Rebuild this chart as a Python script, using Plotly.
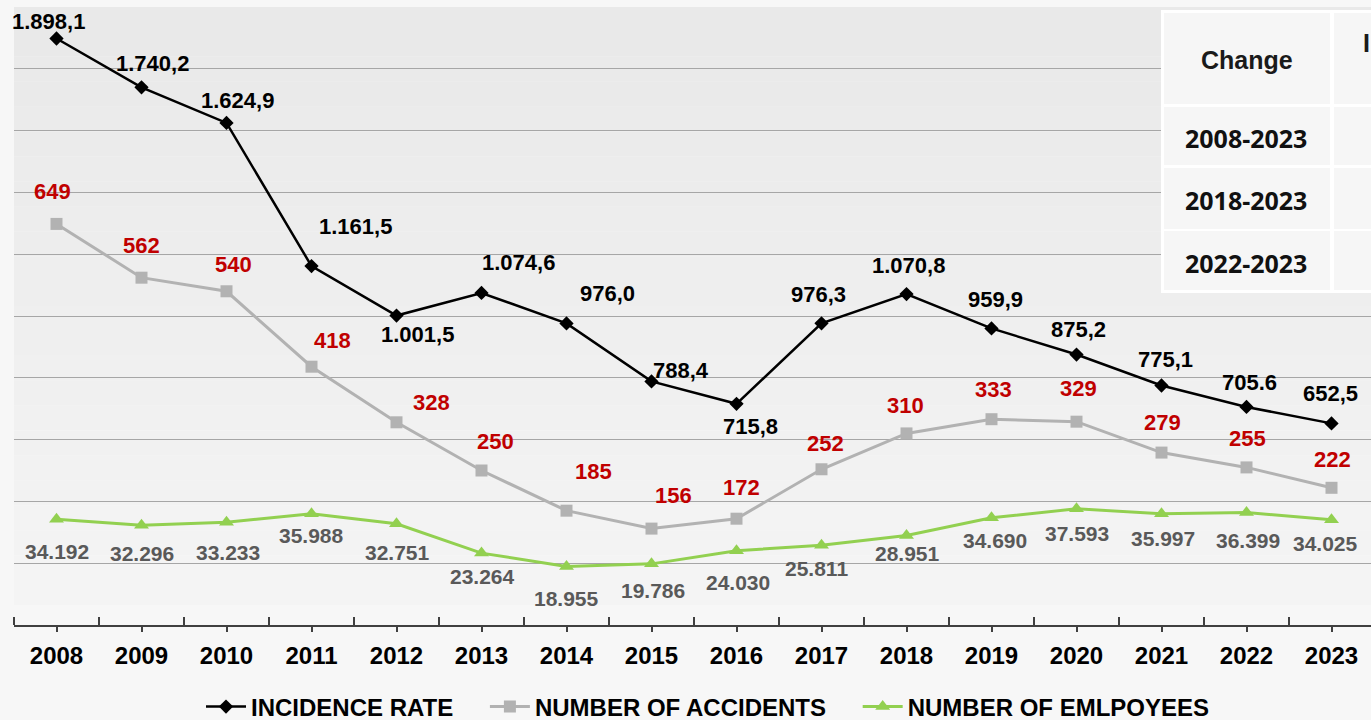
import plotly.graph_objects as go

years = list(range(2008, 2024))
incidence_rate = [1898.1, 1740.2, 1624.9, 1161.5, 1001.5, 1074.6, 976.0, 788.4,
                  715.8, 976.3, 1070.8, 959.9, 875.2, 775.1, 705.6, 652.5]
incidence_text = ["1.898,1", "1.740,2", "1.624,9", "1.161,5", "1.001,5", "1.074,6", "976,0", "788,4",
                  "715,8", "976,3", "1.070,8", "959,9", "875,2", "775,1", "705.6", "652,5"]
accidents = [649, 562, 540, 418, 328, 250, 185, 156, 172, 252, 310, 333, 329, 279, 255, 222]
employees = [34192, 32296, 33233, 35988, 32751, 23264, 18955, 19786,
             24030, 25811, 28951, 34690, 37593, 35997, 36399, 34025]
employees_text = ["34.192", "32.296", "33.233", "35.988", "32.751", "23.264", "18.955", "19.786",
                  "24.030", "25.811", "28.951", "34.690", "37.593", "35.997", "36.399", "34.025"]
series_names = ["INCIDENCE RATE", "NUMBER OF ACCIDENTS", "NUMBER OF EMLPOYEES"]
table_header = "Change"
table_rows = ["2008-2023", "2018-2023", "2022-2023"]
table_col2 = "I"

# label offsets (pixels, dx, dy up)
inc_off = [(-8, 17), (11, 24), (11, 22), (44, 40), (21, -19), (37, 30), (41, 30), (29, 11),
           (14, -23), (-3, 29), (2, 29), (4, 29), (2, 25), (4, 26), (3, 24), (-1, 30)]
acc_off = [(-4, 32), (0, 32), (7, 27), (21, 26), (35, 20), (14, 29), (27, 39), (22, 33),
           (5, 31), (4, 26), (-1, 28), (2, 30), (2, 33), (1, 30), (1, 29), (1, 28)]
emp_off = [(0, -32), (0, -28), (1, -30), (0, -22), (1, -29), (1, -23), (0, -32), (1, -27),
           (1, -32), (-5, -23), (1, -18), (3, -23), (0, -25), (1, -25), (1, -28), (-6, -24)]

W, H = 1371, 720
ML, MR, MT, MB = 14, 0, 7, 95
PW, PH = W - ML - MR, H - MT - MB

def px(x):
    return (x - ML) / PW

def py(y):
    return (H - MB - y) / PH

FONT = "Liberation Sans, Arial, sans-serif"
PAD = "\u00a0\u00a0\u00a0\u00a0"

fig = go.Figure()
fig.add_trace(go.Scatter(
    x=years, y=incidence_rate, name=series_names[0] + PAD, mode="lines+markers",
    line=dict(color="#000000", width=2.5),
    marker=dict(symbol="diamond", size=11, color="#000000"), yaxis="y"))
fig.add_trace(go.Scatter(
    x=years, y=accidents, name=series_names[1] + PAD, mode="lines+markers",
    line=dict(color="#b2b2b2", width=3),
    marker=dict(symbol="square", size=12, color="#b2b2b2"), yaxis="y2"))
fig.add_trace(go.Scatter(
    x=years, y=employees, name=series_names[2], mode="lines+markers",
    line=dict(color="#92d050", width=3),
    marker=dict(symbol="triangle-up", size=13, color="#92d050"), yaxis="y3"))

ann = []
for i, yr in enumerate(years):
    ann.append(dict(x=yr, y=incidence_rate[i], xref="x", yref="y", text="<b>%s</b>" % incidence_text[i],
                    showarrow=False, xshift=inc_off[i][0], yshift=inc_off[i][1],
                    xanchor="center", yanchor="middle",
                    font=dict(family=FONT, size=22, color="#000000")))
    ann.append(dict(x=yr, y=accidents[i], xref="x", yref="y2", text="<b>%d</b>" % accidents[i],
                    showarrow=False, xshift=acc_off[i][0], yshift=acc_off[i][1],
                    xanchor="center", yanchor="middle",
                    font=dict(family=FONT, size=22, color="#c00000")))
    ann.append(dict(x=yr, y=employees[i], xref="x", yref="y3", text="<b>%s</b>" % employees_text[i],
                    showarrow=False, xshift=emp_off[i][0], yshift=emp_off[i][1],
                    xanchor="center", yanchor="middle",
                    font=dict(family=FONT, size=21, color="#595959")))

shapes = []
# plot area gradient background
n = 24
top_px, bot_px = 7, 605
for k in range(n):
    y0 = top_px + (bot_px - top_px) * k / n
    y1 = top_px + (bot_px - top_px) * (k + 1) / n
    t = k / (n - 1)
    c = int(round(0xe9 + (0xf4 - 0xe9) * t))
    shapes.append(dict(type="rect", xref="paper", yref="paper", x0=0, x1=1,
                       y0=py(y1), y1=py(y0), fillcolor="rgb(%d,%d,%d)" % (c, c, c),
                       line=dict(width=0), layer="below"))

# table
tbl_x0, tbl_x1, tbl_y0, tbl_y1 = 1161, 1380, 10, 293
shapes.append(dict(type="rect", xref="paper", yref="paper", x0=px(tbl_x0), x1=px(tbl_x1),
                   y0=py(tbl_y1), y1=py(tbl_y0), fillcolor="#ffffff", line=dict(width=0), layer="above"))
rows_px = [(13, 104), (107, 165), (168, 229), (231, 290)]
cols_px = [(1164, 1330), (1334, 1380)]
for (r0, r1) in rows_px:
    for (c0, c1) in cols_px:
        shapes.append(dict(type="rect", xref="paper", yref="paper", x0=px(c0), x1=px(c1),
                           y0=py(r1), y1=py(r0), fillcolor="#f6f6f6", line=dict(width=0), layer="above"))
ann.append(dict(xref="paper", yref="paper", x=px(1247), y=py(60), xanchor="center", yanchor="middle",
                text="<b>%s</b>" % table_header,
                showarrow=False, font=dict(family=FONT, size=25, color="#1a1a1a")))
for j, r in enumerate(table_rows):
    yc = (rows_px[j + 1][0] + rows_px[j + 1][1]) / 2 + 2
    ann.append(dict(xref="paper", yref="paper", x=px(1246), y=py(yc), xanchor="center", yanchor="middle",
                    text="<b>%s</b>" % r,
                    showarrow=False, font=dict(family="Noto Sans, sans-serif", size=25, color="#111111")))
ann.append(dict(xref="paper", yref="paper", x=px(1361), y=py(43), xanchor="left", yanchor="middle",
                text="<b>%s</b>" % table_col2,
                showarrow=False, font=dict(family=FONT, size=25, color="#1a1a1a")))

fig.update_layout(
    width=W, height=H,
    margin=dict(l=ML, r=MR, t=MT, b=MB, autoexpand=False),
    paper_bgcolor="#f7f7f7", plot_bgcolor="rgba(0,0,0,0)",
    showlegend=True,
    legend=dict(orientation="h", x=px(201), xanchor="left", y=py(707), yanchor="middle",
                font=dict(family=FONT, size=24, color="#000000", weight="bold"), bgcolor="rgba(0,0,0,0)",
                itemwidth=40),
    xaxis=dict(range=[2007.5, 2007.5 + PW / 85.0], tickmode="array", tickvals=years,
               ticktext=["<b>%d</b>" % y for y in years],
               tickfont=dict(family=FONT, size=24, color="#000000"),
               ticklabelstandoff=3,
               showgrid=False, zeroline=False, showline=True, linecolor="#404040", linewidth=1.5,
               ticks="outside", ticklen=5, tickcolor="#404040", tickwidth=1.5,
               minor=dict(tickmode="linear", tick0=2007.5, dtick=1, ticks="inside", ticklen=8,
                          tickcolor="#404040", tickwidth=1.5, showgrid=False),
               fixedrange=True),
    yaxis=dict(range=[0, 2000], dtick=200, showgrid=True, gridcolor="#a6a6a6", gridwidth=1.3,
               zeroline=False, showticklabels=False, ticks=""),
    yaxis2=dict(range=[0, 1000], overlaying="y", visible=False),
    yaxis3=dict(range=[0, 200000], overlaying="y", visible=False),
    annotations=ann, shapes=shapes,
)

fig.write_html("out.html")
